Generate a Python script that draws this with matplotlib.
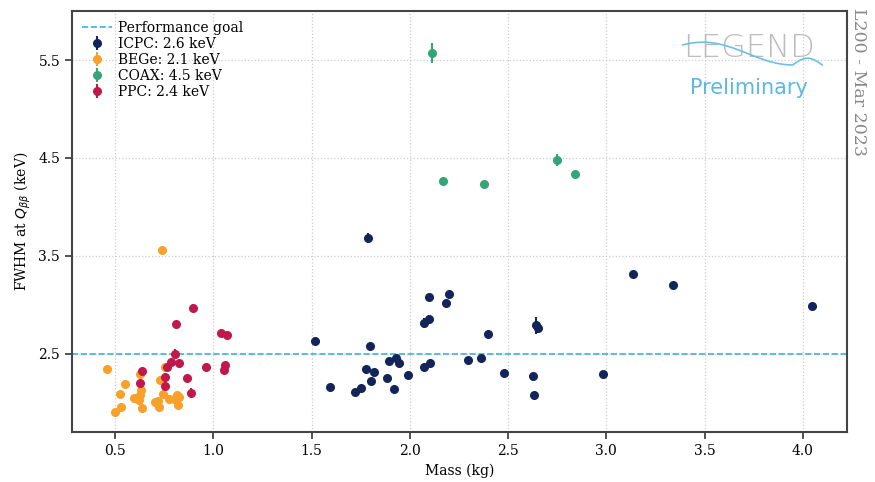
import numpy as np
import matplotlib
matplotlib.use("Agg")
import matplotlib.pyplot as plt

# ---- data (mass kg, FWHM keV, error keV) ----
icpc_mass = [1.789, 2.095, 2.200, 2.183, 2.073, 2.095, 2.643, 2.650, 1.518, 1.798,
             2.395, 1.893, 1.930, 1.946, 2.102, 2.073, 2.298, 2.363, 1.779, 1.818,
             1.883, 1.990, 1.803, 2.480, 2.629, 1.593, 1.751, 1.720, 1.920, 2.634,
             3.138, 3.340, 4.046, 2.985]
icpc_fwhm = [3.68, 3.08, 3.11, 3.02, 2.81, 2.85, 2.79, 2.76, 2.63, 2.58,
             2.70, 2.43, 2.46, 2.41, 2.41, 2.36, 2.44, 2.46, 2.34, 2.31,
             2.25, 2.28, 2.22, 2.30, 2.27, 2.16, 2.15, 2.11, 2.14, 2.08,
             3.31, 3.20, 2.99, 2.29]
icpc_err = [0.05, 0.02, 0.02, 0.02, 0.05, 0.05, 0.09, 0.05, 0.02, 0.02,
            0.02, 0.02, 0.02, 0.02, 0.02, 0.02, 0.02, 0.02, 0.02, 0.02,
            0.02, 0.02, 0.02, 0.02, 0.02, 0.02, 0.02, 0.02, 0.02, 0.02,
            0.02, 0.02, 0.02, 0.02]

bege_mass = [0.739, 0.460, 0.751, 0.627, 0.730, 0.548, 0.629, 0.526, 0.627, 0.745,
             0.597, 0.622, 0.773, 0.797, 0.814, 0.827, 0.702, 0.718, 0.817, 0.527,
             0.636, 0.722, 0.497]
bege_fwhm = [3.56, 2.34, 2.36, 2.29, 2.23, 2.19, 2.13, 2.09, 2.08, 2.09,
             2.05, 2.03, 2.04, 2.04, 2.08, 2.06, 2.01, 2.02, 1.98, 1.96,
             1.95, 1.96, 1.90]
bege_err = [0.02] * len(bege_mass)

coax_mass = [2.113, 2.168, 2.377, 2.748, 2.840]
coax_fwhm = [5.57, 4.26, 4.23, 4.48, 4.34]
coax_err = [0.10, 0.02, 0.02, 0.06, 0.02]

ppc_mass = [0.898, 0.811, 1.040, 1.070, 0.804, 0.782, 0.766, 0.827, 0.636, 0.963,
            1.057, 1.053, 0.751, 0.865, 0.627, 0.753, 0.885]
ppc_fwhm = [2.97, 2.80, 2.71, 2.69, 2.50, 2.42, 2.36, 2.40, 2.32, 2.36,
            2.38, 2.33, 2.26, 2.25, 2.20, 2.17, 2.10]
ppc_err = [0.02, 0.02, 0.02, 0.02, 0.05, 0.02, 0.02, 0.02, 0.02, 0.02,
           0.02, 0.02, 0.02, 0.02, 0.02, 0.02, 0.05]

goal = 2.5

series = [
    ("ICPC: 2.6 keV", icpc_mass, icpc_fwhm, icpc_err, "#13245a"),
    ("BEGe: 2.1 keV", bege_mass, bege_fwhm, bege_err, "#f8a12a"),
    ("COAX: 4.5 keV", coax_mass, coax_fwhm, coax_err, "#35a477"),
    ("PPC: 2.4 keV", ppc_mass, ppc_fwhm, ppc_err, "#c1184b"),
]

plt.rcParams["font.family"] = "DejaVu Serif"
fig = plt.figure(figsize=(8.75, 4.82), dpi=100)
ax = fig.add_axes([0.0823, 0.1037, 0.8857, 0.8733])

ax.axhline(goal, color="#3bb2e3", ls="--", lw=1.2, label="Performance goal", zorder=2)
for lab, m, f, e, c in series:
    ax.errorbar(m, f, yerr=e, fmt="o", ms=5.5, color=c, ecolor=c, elinewidth=1.5,
                capsize=0, label=lab, zorder=3)

ax.set_xlim(0.28, 4.225)
ax.set_ylim(1.70, 6.0)
ax.set_xticks([0.5, 1.0, 1.5, 2.0, 2.5, 3.0, 3.5, 4.0])
ax.set_yticks([2.5, 3.5, 4.5, 5.5])
ax.tick_params(labelsize=10, width=1.2, length=5, colors="#333333", labelcolor="black")
ax.grid(True, ls=":", color="#cccccc", lw=0.9)
ax.set_axisbelow(True)
for s in ax.spines.values():
    s.set_linewidth(1.5)
    s.set_color("#444444")

ax.set_xlabel("Mass (kg)", fontsize=10)
ax.set_ylabel(r"FWHM at $Q_{\beta\beta}$ (keV)", fontsize=10)

ax.legend(loc="upper left", frameon=False, fontsize=10, handlelength=2.2,
          borderaxespad=0.3, labelspacing=0.15, handletextpad=0.4)

# LEGEND logo + preliminary mark (decoration in axes coordinates)
ax.text(0.873, 0.912, "LEGEND", transform=ax.transAxes, ha="center", va="center",
        fontsize=23, color="#bdbdbd", family="DejaVu Sans", fontweight="light")
w1 = np.linspace(0.788, 0.93, 80)
y1 = 0.899 + 0.027 * np.cos(np.pi * (w1 - 0.814) / 0.116)
w2 = np.linspace(0.93, 0.968, 30)
y2 = 0.872 + 0.016 * np.sin(np.pi * (w2 - 0.93) / 0.038)
ax.plot(np.r_[w1, w2], np.r_[y1, y2], transform=ax.transAxes,
        color="#6cc0e5", lw=1.2, zorder=4)
ax.text(0.873, 0.817, "Preliminary", transform=ax.transAxes, ha="center", va="center",
        fontsize=15, color="#5bb8e5", family="DejaVu Sans")

fig.text(0.981, 0.83, "L200 - Mar 2023", rotation=-90, ha="center", va="center",
         fontsize=12.5, color="#888888")

fig.savefig("out.png", dpi=100)
